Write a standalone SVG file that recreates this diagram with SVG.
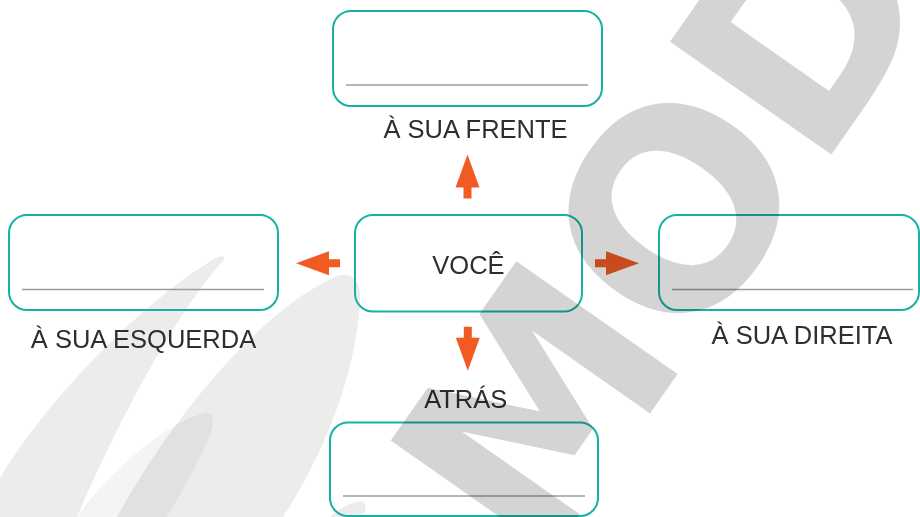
<svg xmlns="http://www.w3.org/2000/svg" xmlns:xlink="http://www.w3.org/1999/xlink" width="920" height="517" viewBox="0 0 920 517">
  <style>
    .box { fill: none; stroke: #17b1a4; stroke-width: 2; }
    .rule { stroke: #9c9c9c; stroke-width: 1.4; }
    .lbl { font-family: "Liberation Sans", Arial, sans-serif; font-size: 25.5px; fill: #2e2e2e; text-anchor: middle; }
    .arrow { fill: #f15a22; }
    .leaf { fill: #000; fill-opacity: 0.075; }
    .wm { font-family: "DejaVu Sans", "Liberation Sans", sans-serif; font-weight: bold; font-size: 270px; fill: #d4d4d4; mix-blend-mode: multiply; }
  </style>
  <defs>
    <path id="arr" d="M0,-4 H11 V-12 L44,0 L11,12 V4 H0 Z"/>
  </defs>
  <rect width="920" height="517" fill="#ffffff"/>

  <g id="background-leaves">
    <path class="leaf" d="M0,478 C60,380 160,290 216,258 C224,254 226,256 222,262 C170,320 110,440 77,517 L0,517 Z"/>
    <path class="leaf" d="M117,517 C170,420 260,310 335,277 C350,270 362,280 360,300 C356,380 320,460 283,517 Z"/>
    <path class="leaf" style="fill-opacity:0.045" d="M77,517 C110,470 170,420 205,413 C215,411 214,425 210,435 C195,470 180,495 167,517 Z"/>
    <path class="leaf" d="M330,517 C340,508 355,500 363,502 C368,505 365,512 362,517 Z"/>
  </g>

  <g id="node-frente">
    <rect class="box" x="333" y="11" width="269" height="95" rx="18"/>
    <line class="rule" x1="346" y1="85" x2="588" y2="85"/>
    <text class="lbl" x="475.5" y="138">À SUA FRENTE</text>
  </g>
  <g id="node-esquerda">
    <rect class="box" x="9" y="215" width="269" height="95" rx="18"/>
    <line class="rule" x1="22" y1="289.5" x2="264" y2="289.5"/>
    <text class="lbl" x="143.5" y="347.5">À SUA ESQUERDA</text>
  </g>
  <g id="node-voce">
    <rect class="box" x="355" y="215" width="227" height="96.5" rx="18"/>
    <text class="lbl" x="468.5" y="273.5">VOCÊ</text>
  </g>
  <g id="node-direita">
    <rect class="box" x="659" y="215" width="260" height="95" rx="18"/>
    <line class="rule" x1="672" y1="289.5" x2="913" y2="289.5"/>
    <text class="lbl" x="802" y="343.5">À SUA DIREITA</text>
  </g>
  <g id="node-atras">
    <rect class="box" x="330" y="422.5" width="268" height="93.5" rx="18"/>
    <line class="rule" x1="343" y1="496" x2="585" y2="496"/>
    <text class="lbl" x="465.7" y="408.3">ATRÁS</text>
  </g>

  <g id="connectors">
    <use class="arrow" xlink:href="#arr" transform="translate(467.5,198.5) rotate(-90)"/>
    <use class="arrow" xlink:href="#arr" transform="translate(340,263.2) rotate(180)"/>
    <use class="arrow" xlink:href="#arr" transform="translate(595,263.2)"/>
    <use class="arrow" xlink:href="#arr" transform="translate(467.8,326.7) rotate(90)"/>
  </g>

  <g id="watermark">
    <text class="wm" transform="translate(567,532) rotate(-55)"><tspan x="-51">M</tspan><tspan x="212">O</tspan><tspan x="436">D</tspan></text>
  </g>
</svg>
